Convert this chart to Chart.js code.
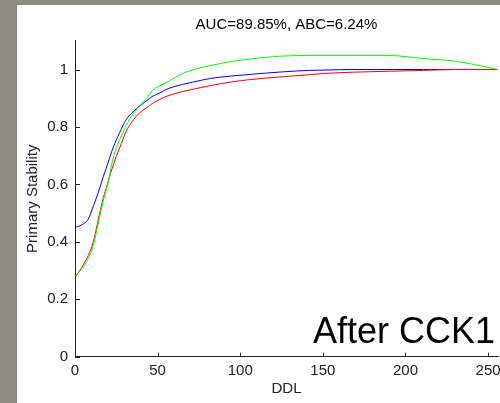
<!DOCTYPE html>
<html lang="en">
<head>
  <meta charset="UTF-8">
  <title>Primary Stability vs DDL</title>
  <script src="https://cdn.jsdelivr.net/npm/chart.js"></script>
  <style>
    html, body { margin: 0; padding: 0; }
    body { width: 500px; height: 403px; background: #8c8d80; position: relative; overflow: hidden; }
    #panel { position: absolute; left: 17px; top: 5px; width: 483px; height: 398px; background: #fff; }
  </style>
</head>
<body>
  <div id="panel"><canvas id="stabChart" width="483" height="398"></canvas></div>

  <script>
    // DDL sample positions shared by the three curves
    const ddl = [0, 4, 8, 11, 14, 17, 20, 23, 27, 31, 35, 39, 43, 47, 51, 57, 65, 72, 82, 94, 106, 126, 142, 150, 170, 190, 211, 230, 247, 256];

    const stabGreen = [0.280, 0.305, 0.342, 0.385, 0.462, 0.540, 0.605, 0.690, 0.755, 0.805, 0.845, 0.872, 0.898, 0.928, 0.942, 0.960, 0.986, 1.000, 1.014, 1.027, 1.037, 1.047, 1.049, 1.049, 1.049, 1.049, 1.038, 1.029, 1.011, 1.000];
    const stabRed   = [0.275, 0.310, 0.352, 0.398, 0.475, 0.550, 0.608, 0.665, 0.727, 0.785, 0.822, 0.849, 0.866, 0.882, 0.895, 0.910, 0.923, 0.932, 0.944, 0.956, 0.965, 0.975, 0.982, 0.986, 0.991, 0.994, 0.997, 1.000, 1.000, 1.000];
    const stabBlue  = [0.450, 0.459, 0.479, 0.523, 0.570, 0.625, 0.675, 0.727, 0.780, 0.826, 0.852, 0.872, 0.890, 0.907, 0.918, 0.935, 0.948, 0.957, 0.969, 0.977, 0.983, 0.992, 0.997, 0.998, 1.000, 1.000, 1.000, 1.000, 1.000, 1.000];

    const xTicks = [0, 50, 100, 150, 200, 250];
    const yTicks = [0, 0.2, 0.4, 0.6, 0.8, 1];

    const titleText = 'AUC=89.85%, ABC=6.24%';
    const caption = 'After CCK1';

    const FONT = '"Liberation Sans", Arial, sans-serif';
    const AXIS = '#222';

    const toPoints = ys => ys.map((v, i) => ({ x: ddl[i], y: v }));

    // matlab style: ticks pointing into the axes, plus the big caption
    const innerTicks = {
      id: 'innerTicks',
      afterDatasetsDraw(chart) {
        const { ctx, chartArea, scales: { x, y } } = chart;
        ctx.save();
        ctx.strokeStyle = AXIS;
        ctx.lineWidth = 1;
        ctx.beginPath();
        x.ticks.forEach(t => {
          const px = Math.round(x.getPixelForValue(t.value)) + 0.5;
          ctx.moveTo(px, chartArea.bottom);
          ctx.lineTo(px, chartArea.bottom - 4);
        });
        y.ticks.forEach(t => {
          const py = Math.round(y.getPixelForValue(t.value)) + 0.5;
          ctx.moveTo(chartArea.left, py);
          ctx.lineTo(chartArea.left + 5, py);
        });
        ctx.stroke();

        ctx.font = '36px ' + FONT;
        ctx.fillStyle = '#000';
        ctx.textAlign = 'right';
        ctx.textBaseline = 'alphabetic';
        ctx.fillText(caption, chartArea.right - 3, chartArea.bottom - 14);
        ctx.restore();
      }
    };

    const line = (data, color) => ({
      data: toPoints(data),
      borderColor: color,
      borderWidth: 1,
      pointRadius: 0,
      fill: false,
      cubicInterpolationMode: 'monotone'
    });

    new Chart(document.getElementById('stabChart'), {
      type: 'line',
      data: {
        datasets: [
          line(stabGreen, '#00ff00'),
          line(stabRed, '#ff0000'),
          line(stabBlue, '#0000ff')
        ]
      },
      options: {
        responsive: false,
        animation: false,
        devicePixelRatio: 1,
        layout: { padding: { top: 0, right: 2, bottom: 0, left: 0 } },
        plugins: {
          legend: { display: false },
          tooltip: { enabled: false },
          title: {
            display: true,
            text: titleText,
            fullSize: false,
            color: '#000',
            font: { family: FONT, size: 15, weight: 'normal' },
            padding: { top: 10.5, bottom: 7.3 }
          }
        },
        scales: {
          x: {
            type: 'linear',
            min: 0,
            max: 256,
            afterFit: s => { s.height = 46.3; s.paddingLeft = 0; s.paddingRight = 0; },
            afterBuildTicks: s => { s.ticks = xTicks.map(v => ({ value: v })); },
            grid: { display: true, drawOnChartArea: false, drawTicks: false },
            border: { display: true, color: AXIS, width: 1 },
            ticks: { padding: 5, maxRotation: 0, autoSkip: false, color: AXIS, font: { family: FONT, size: 15 } },
            title: { display: true, text: 'DDL', color: AXIS, font: { family: FONT, size: 15 }, padding: { top: 0, bottom: 5 } }
          },
          y: {
            min: 0,
            max: 1.1,
            afterFit: s => { s.width = 58; s.paddingTop = 0; s.paddingBottom = 0; },
            afterBuildTicks: s => { s.ticks = yTicks.map(v => ({ value: v })); },
            grid: { display: true, drawOnChartArea: false, drawTicks: false },
            border: { display: true, color: AXIS, width: 1 },
            ticks: {
              padding: 7,
              autoSkip: false,
              color: AXIS,
              font: { family: FONT, size: 15 },
              callback: v => String(Number(v.toFixed(1)))
            },
            title: { display: true, text: 'Primary Stability', color: AXIS, font: { family: FONT, size: 15 }, padding: { top: 6.5, bottom: 0 } }
          }
        }
      },
      plugins: [innerTicks]
    });
  </script>
</body>
</html>
